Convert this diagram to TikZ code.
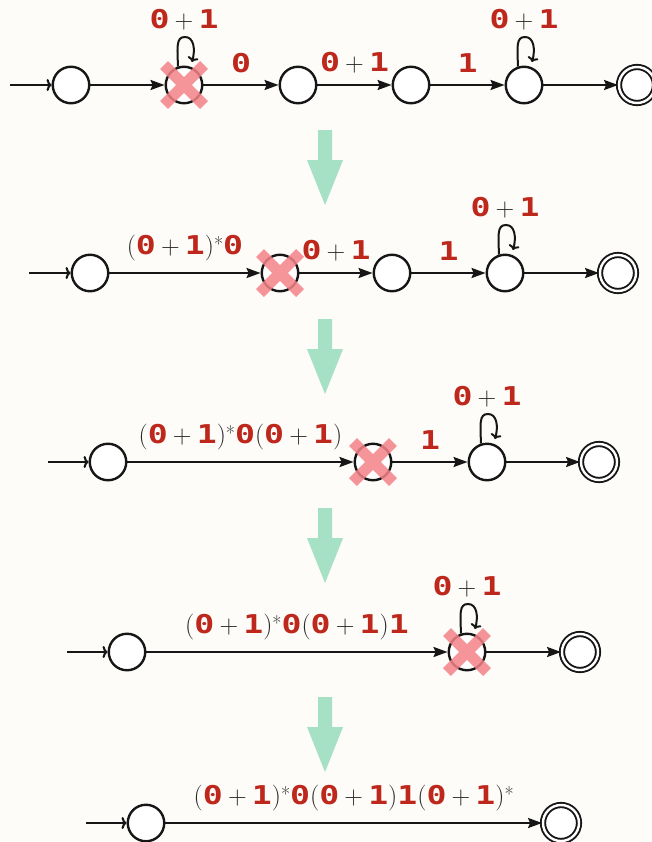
\documentclass[tikz,border=0pt]{standalone}
\usepackage{fontspec}
\newfontfamily\digitfont{DejaVu Sans Mono}[FakeStretch=1.28]
\usetikzlibrary{arrows.meta,calc}
\definecolor{bgc}{RGB}{253,252,248}
\definecolor{dred}{RGB}{190,40,28}
\definecolor{xpink}{RGB}{244,130,136}
\definecolor{agreen}{RGB}{166,224,197}
\definecolor{ink}{RGB}{22,22,22}
\definecolor{opc}{RGB}{40,40,40}
\newcommand{\Zr}{{\digitfont\bfseries\color{dred}0}}
\newcommand{\On}{{\digitfont\bfseries\color{dred}1}}
\newcommand{\Pl}{\hspace{0.2em}+\hspace{0.2em}}
\newcommand{\St}{\raisebox{3bp}{\fontsize{20}{20}\selectfont *}}
\newcommand{\xout}[1]{\draw[xmark] ([shift={(-20,-20)}]#1.center) -- ([shift={(20,20)}]#1.center) ([shift={(-20,20)}]#1.center) -- ([shift={(20,-20)}]#1.center);}
\newcommand{\selfloop}[1]{\draw[looparr] (#1.108) .. controls +(92:20) and +(180:9) .. ([shift={(1,48)}]#1.center) .. controls +(0:9) and +(75:13) .. ([shift={(8,23)}]#1.center);}
\newcommand{\greenarrow}[1]{\fill[agreen] (318,-#1) -- (332,-#1) -- (332,-#1-30) -- (343,-#1-30) -- (325,-#1-75) -- (307,-#1-30) -- (318,-#1-30) -- cycle;}
\begin{document}
\begin{tikzpicture}[x=1bp,y=1bp,
  state/.style={circle, draw=ink, line width=2.4bp, minimum size=36.5bp, inner sep=0pt, fill=white},
  accept/.style={state, minimum size=36bp, double=white, double distance=2.4bp, line width=1.9bp},
  trans/.style={draw=ink, line width=2.1bp, -{Stealth[length=14bp,width=10bp,inset=2bp]}},
  startarr/.style={draw=ink, line width=2.1bp, -{To[length=5bp,width=12bp]}},
  looparr/.style={draw=ink, line width=2bp, -{To[length=5bp,width=11bp]}},
  xmark/.style={draw=xpink, line width=11bp, opacity=0.85},
  lbl/.style={text=opc, font=\fontsize{26}{30}\selectfont, inner sep=0pt},
  elbl/.style={lbl, midway, anchor=south, yshift=11bp},
  llbl/.style={lbl, anchor=base}
]
\fill[bgc] (0,0) rectangle (652,-842);
\useasboundingbox (0,0) rectangle (652,-842);

% ---------- Row 1
\node[state] (a1) at (71,-85) {};
\node[state] (a2) at (184,-85) {};
\node[state] (a3) at (298,-85) {};
\node[state] (a4) at (411,-85) {};
\node[state] (a5) at (524,-85) {};
\node[accept] (a6) at (637,-85) {};
\coordinate (a0) at (10,-85);
\draw[startarr] (a0) -- (a1);
\draw[trans] (a1) -- (a2);
\draw[trans] (a2) -- node[elbl] (la23) {\Zr} (a3);
\draw[trans] (a3) -- node[elbl] (la34) {\Zr\Pl\On} (a4);
\draw[trans] (a4) -- node[elbl] (la45) {\On} (a5);
\draw[trans] (a5) -- (a6);
\selfloop{a2}
\selfloop{a5}
\node[llbl] (lp2) at ([yshift=57]a2.center) {\Zr\Pl\On};
\node[llbl] (lp5) at ([yshift=57]a5.center) {\Zr\Pl\On};
\xout{a2}

\greenarrow{130}

% ---------- Row 2
\node[state] (b1) at (90,-273) {};
\node[state] (b2) at (280,-273) {};
\node[state] (b3) at (392,-273) {};
\node[state] (b4) at (505,-273) {};
\node[accept] (b5) at (618,-273) {};
\coordinate (b0) at (29,-273);
\draw[startarr] (b0) -- (b1);
\draw[trans] (b1) -- node[elbl] (lb12) {(\Zr\Pl\On)\St\Zr} (b2);
\draw[trans] (b2) -- node[elbl] (lb23) {\Zr\Pl\On} (b3);
\draw[trans] (b3) -- node[elbl] (lb34) {\On} (b4);
\draw[trans] (b4) -- (b5);
\selfloop{b4}
\node[llbl] (lp4) at ([yshift=57]b4.center) {\Zr\Pl\On};
\xout{b2}

\greenarrow{319}

% ---------- Row 3
\node[state] (c1) at (108,-462) {};
\node[state] (c2) at (373,-462) {};
\node[state] (c3) at (487,-462) {};
\node[accept] (c4) at (599,-462) {};
\coordinate (c0) at (48,-462);
\draw[startarr] (c0) -- (c1);
\draw[trans] (c1) -- node[elbl] (lc12) {(\Zr\Pl\On)\St\Zr(\Zr\Pl\On)} (c2);
\draw[trans] (c2) -- node[elbl] (lc23) {\On} (c3);
\draw[trans] (c3) -- (c4);
\selfloop{c3}
\node[llbl] (lp3) at ([yshift=57]c3.center) {\Zr\Pl\On};
\xout{c2}

\greenarrow{508}

% ---------- Row 4
\node[state] (d1) at (127,-652) {};
\node[state] (d2) at (467,-652) {};
\node[accept] (d3) at (580,-652) {};
\coordinate (d0) at (67,-652);
\draw[startarr] (d0) -- (d1);
\draw[trans] (d1) -- node[elbl] (ld12) {(\Zr\Pl\On)\St\Zr(\Zr\Pl\On)\On} (d2);
\draw[trans] (d2) -- (d3);
\selfloop{d2}
\node[llbl] (lpd) at ([yshift=57]d2.center) {\Zr\Pl\On};
\xout{d2}

\greenarrow{697}

% ---------- Row 5
\node[state] (e1) at (146,-823) {};
\node[accept] (e2) at (561,-823) {};
\coordinate (e0) at (86,-823);
\draw[startarr] (e0) -- (e1);
\draw[trans] (e1) -- node[elbl] (le12) {(\Zr\Pl\On)\St\Zr(\Zr\Pl\On)\On(\Zr\Pl\On)\St} (e2);
\end{tikzpicture}
\end{document}
